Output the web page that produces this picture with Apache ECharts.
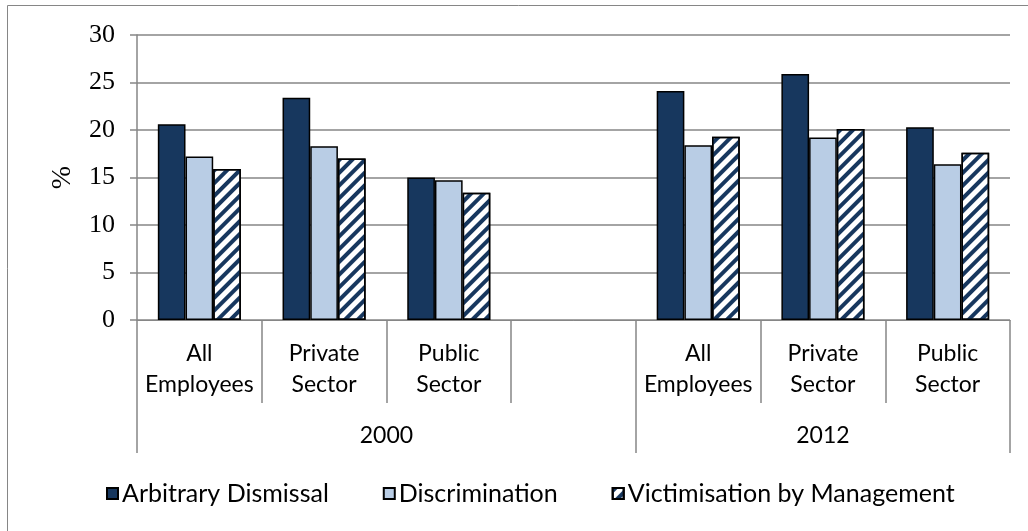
<!DOCTYPE html>
<html>
<head>
<meta charset="utf-8">
<script src="https://cdn.jsdelivr.net/npm/echarts@6/dist/echarts.min.js"></script>
<style>
  html, body { margin: 0; padding: 0; background: #fff; }
  #chart { width: 1028px; height: 531px; }
</style>
</head>
<body>
<div id="chart"></div>
<script>
// ---- data ----
var categories = ['All\nEmployees', 'Private\nSector', 'Public\nSector', '', 'All\nEmployees', 'Private\nSector', 'Public\nSector'];
var yearGroups = ['2000', '2012'];
var groupSizes = [4, 3];
var seriesNames = ['Arbitrary Dismissal', 'Discrimination', 'Victimisation by Management'];
var arbitraryDismissal = [20.6, 23.4, 15.0, null, 24.1, 25.9, 20.3];
var discrimination = [17.2, 18.3, 14.7, null, 18.4, 19.2, 16.4];
var victimisation = [15.9, 17.0, 13.4, null, 19.3, 20.1, 17.6];
var yTicks = [0, 5, 10, 15, 20, 25, 30];

// ---- derived group boundaries / centers ----
var boundaries = [0];
groupSizes.forEach(function (s) { boundaries.push(boundaries[boundaries.length - 1] + s); });
var centers = [];
var centerLabel = {};
for (var i = 0; i < groupSizes.length; i++) {
  var c = (boundaries[i] + boundaries[i + 1]) / 2;
  centers.push(c);
  centerLabel[c] = yearGroups[i];
}

var GRAY = '#868686';
var SANS = 'Lato, "Noto Sans", sans-serif';
var SERIF = '"Liberation Serif", "DejaVu Serif", serif';
var DARK = '#17375E';
var LIGHT = '#B9CDE5';

var chart = echarts.init(document.getElementById('chart'), null, { renderer: 'canvas' });

var barBorder = { borderColor: '#000', borderWidth: 1.5 };

chart.setOption({
  animation: false,
  backgroundColor: '#fff',
  graphic: [{
    type: 'rect',
    shape: { x: 7.5, y: 5.5, width: 1100, height: 700 },
    style: { fill: 'none', stroke: GRAY, lineWidth: 1 },
    silent: true, z: -10
  }],
  grid: { left: 137, right: 18, top: 35, bottom: 211, containLabel: false },
  legend: {
    left: 101, top: 476,
    icon: 'rect',
    itemWidth: 11, itemHeight: 11, itemGap: 54,
    textStyle: { fontFamily: SANS, fontSize: 25, color: '#000', padding: [0, 0, 0, -1] },
    data: seriesNames
  },
  xAxis: [{
    type: 'category',
    data: categories,
    boundaryGap: true,
    axisLine: { show: true, lineStyle: { color: GRAY, width: 1 } },
    axisTick: { show: true, interval: 0, length: 83, lineStyle: { color: GRAY, width: 1.5 } },
    axisLabel: {
      interval: 0, margin: 18,
      fontFamily: SANS, fontSize: 23, lineHeight: 31, color: '#000'
    },
    splitLine: { show: false }
  }, {
    type: 'value',
    min: boundaries[0], max: boundaries[boundaries.length - 1],
    position: 'bottom',
    axisLine: { show: false },
    axisTick: { show: true, customValues: boundaries, length: 133, lineStyle: { color: GRAY, width: 1.5 } },
    axisLabel: {
      customValues: centers, margin: 104,
      fontFamily: SANS, fontSize: 23, color: '#000',
      formatter: function (v) { return centerLabel[v] || ''; }
    },
    splitLine: { show: false }
  }],
  yAxis: {
    type: 'value',
    min: yTicks[0], max: yTicks[yTicks.length - 1], interval: 5,
    name: '%', nameLocation: 'middle', nameRotate: 90, nameGap: 60,
    nameTextStyle: { fontFamily: SERIF, fontSize: 28, color: '#000' },
    axisLine: { show: true, lineStyle: { color: GRAY, width: 1.5 } },
    axisTick: { show: true, length: 7, lineStyle: { color: GRAY, width: 1.5 } },
    axisLabel: { margin: 22, fontFamily: SERIF, fontSize: 26, color: '#000' },
    splitLine: { show: true, lineStyle: { color: GRAY, width: 1.5 } }
  },
  series: [{
    name: seriesNames[0], type: 'bar', data: arbitraryDismissal,
    barGap: '0%', barCategoryGap: '33.4%',
    itemStyle: Object.assign({ color: DARK }, barBorder)
  }, {
    name: seriesNames[1], type: 'bar', data: discrimination,
    barGap: '0%', barCategoryGap: '33.4%',
    itemStyle: Object.assign({ color: LIGHT }, barBorder)
  }, {
    name: seriesNames[2], type: 'bar', data: victimisation,
    barGap: '0%', barCategoryGap: '33.4%',
    itemStyle: Object.assign({
      color: '#fff',
      decal: {
        symbol: 'rect', symbolSize: 1,
        color: DARK,
        dashArrayX: [1, 0],
        dashArrayY: [3.5, 5],
        rotation: -Math.PI / 4
      }
    }, barBorder)
  }]
});
</script>
</body>
</html>
